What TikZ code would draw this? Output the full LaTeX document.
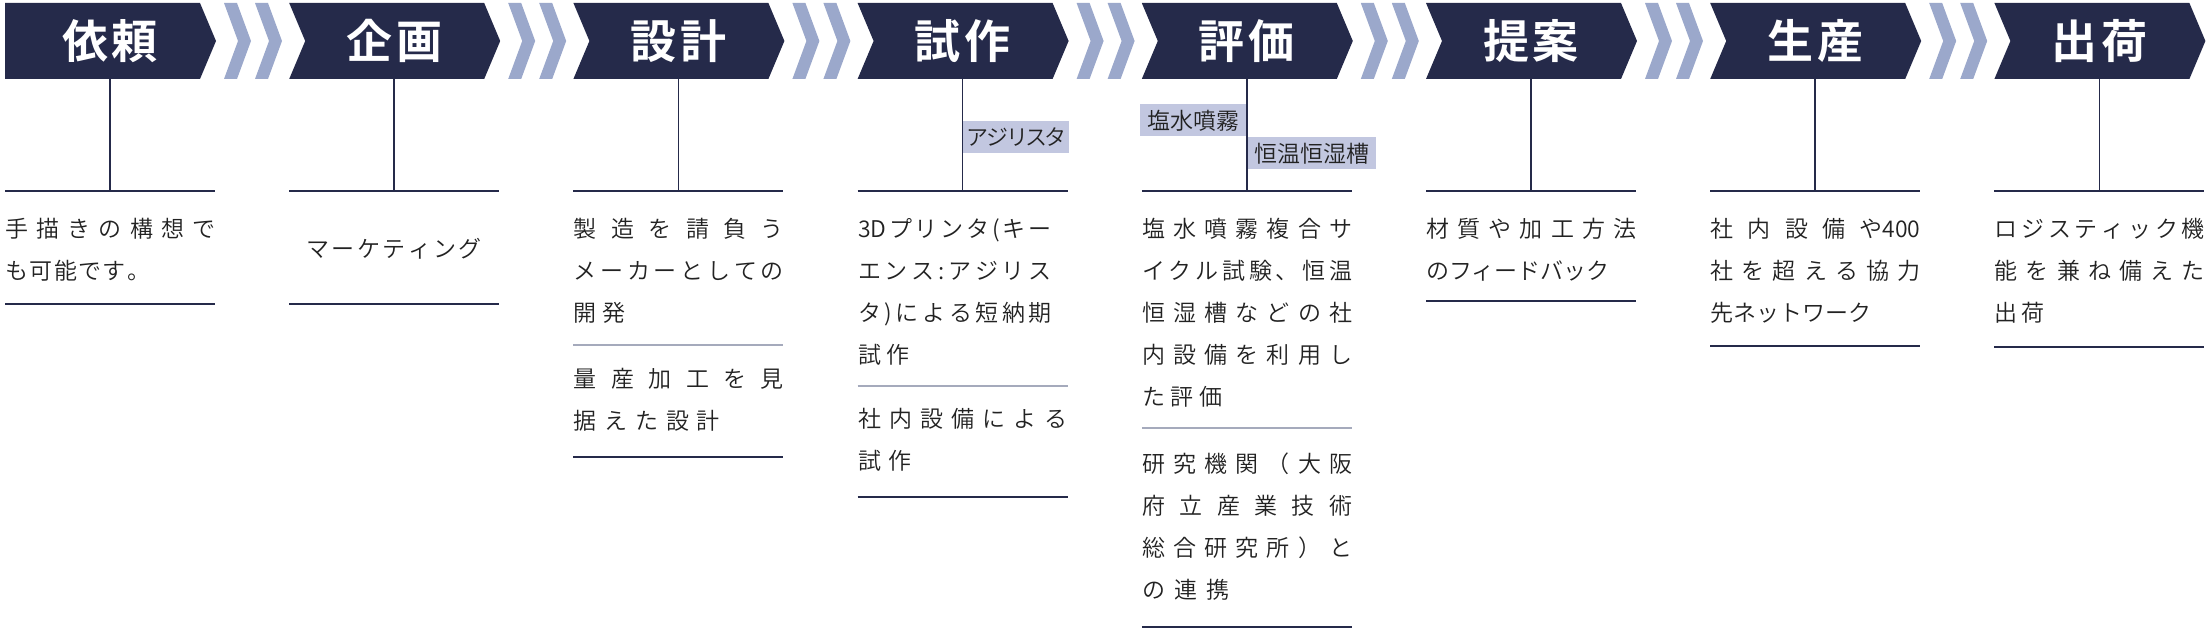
\documentclass[tikz,border=0pt]{standalone}
\usepackage{fontspec}
\setmainfont{Noto Sans CJK JP DemiLight}[BoldFont={Noto Sans CJK JP Bold}]
\newfontfamily\tagjp[RawFeature=+palt]{Noto Sans CJK JP DemiLight}
\usepackage{tikz}
\usetikzlibrary{positioning}
\setlength{\parindent}{0pt}
\definecolor{navy}{RGB}{37,42,74}
\definecolor{chev}{RGB}{155,168,203}
\definecolor{tagfill}{RGB}{194,199,224}
\definecolor{sepgray}{RGB}{165,170,188}
\definecolor{ink}{RGB}{34,34,34}
\newlength{\colw}
\setlength{\colw}{105pt}
\newcommand{\spreadsep}{\hfil}
\def\spreadA#1#2\endspread{#1\ifx\relax#2\else\spreadsep\spreadA#2\endspread\fi}
\newcommand{\jline}[1]{\makebox[\colw][s]{\spreadA#1\relax\endspread}}
\newcommand{\kline}[2][2pt]{\mbox{\def\spreadsep{\hspace{#1}}\spreadA#2\relax\endspread}}
\newcommand{\bodyfont}{\fontsize{11.5}{21}\selectfont}
\newcommand{\headfont}{\bfseries\fontsize{23}{23}\selectfont}
\tikzset{headtext/.style={minimum width=105pt, minimum height=38pt, inner sep=0pt, text=white, font=\headfont}}
\tikzset{body/.style={anchor=north west, inner sep=0pt, text width=105pt, align=left, text=ink, font=\bodyfont, execute at begin node={\rule{0pt}{10pt}}}}
\tikzset{bodyc/.style={body, anchor=north, align=center}}
\tikzset{tagbox/.style={fill=tagfill, inner xsep=3.5pt, inner ysep=0pt, minimum height=16pt, text=ink, font=\tagjp\fontsize{11.5}{12}\selectfont}}
\tikzset{stem/.style={navy, line width=0.8pt}}
\tikzset{rule/.style={navy, line width=1.1pt}}
\tikzset{sep/.style={sepgray, line width=0.8pt}}
\tikzset{headfirst/.pic={\fill[navy] (0,0) -- (195,0) -- (211,38) -- (195,76) -- (0,76) -- cycle;}}
\tikzset{headnext/.pic={\fill[navy] (0,0) -- (195,0) -- (211,38) -- (195,76) -- (0,76) -- (16,38) -- cycle;}}
\tikzset{chevron/.pic={\fill[chev] (0,0) -- (13,0) -- (27,38) -- (13,76) -- (0,76) -- (14,38) -- cycle;}}
\begin{document}
\begin{tikzpicture}[line join=round,x=0.5pt,y=-0.5pt]
\useasboundingbox (0,0) rectangle (2212,630);

\path
 (5,3) pic{headfirst}
 (289.2,3) pic{headnext}
 (573.4,3) pic{headnext}
 (857.6,3) pic{headnext}
 (1141.8,3) pic{headnext}
 (1426,3) pic{headnext}
 (1710.2,3) pic{headnext}
 (1994.4,3) pic{headnext};
\path
 (224,3) pic{chevron} (255,3) pic{chevron}
 (508.2,3) pic{chevron} (539.2,3) pic{chevron}
 (792.4,3) pic{chevron} (823.4,3) pic{chevron}
 (1076.6,3) pic{chevron} (1107.6,3) pic{chevron}
 (1360.8,3) pic{chevron} (1391.8,3) pic{chevron}
 (1645,3) pic{chevron} (1676,3) pic{chevron}
 (1929.2,3) pic{chevron} (1960.2,3) pic{chevron};

\draw[]
 (110,41) node[headtext](h1) {\kline{依頼}}
 (394.2,41) node[headtext](h2) {\kline{企画}}
 (678.4,41) node[headtext](h3) {\kline{設計}}
 (962.6,41) node[headtext](h4) {\kline{試作}}
 (1246.8,41) node[headtext](h5) {\kline{評価}}
 (1531,41) node[headtext](h6) {\kline{提案}}
 (1815.2,41) node[headtext](h7) {\kline{生産}}
 (2099.4,41) node[headtext](h8) {\kline{出荷}};
\draw[]
 (110,191) coordinate(r1)
 (394.2,191) coordinate(r2)
 (678.4,191) coordinate(r3)
 (962.6,191) coordinate(r4)
 (1246.8,191) coordinate(r5)
 (1531,191) coordinate(r6)
 (1815.2,191) coordinate(r7)
 (2099.4,191) coordinate(r8);

\node[tagbox, anchor=north west, inner xsep=2pt, font=\tagjp\fontsize{11}{12}\selectfont] (g4) at (962.6,121) {アジリスタ};
\node[tagbox, anchor=north east] (g5a) at (1246.8,104) {塩水噴霧};
\node[tagbox, anchor=north west] (g5b) at (1246.8,137) {恒温恒湿槽};

\draw[]
 (h1) edge[stem] (r1)
 (h2) edge[stem] (r2)
 (h3) edge[stem] (r3)
 (h4) edge[stem] (r4)
 (h5) edge[stem] (r5)
 (h6) edge[stem] (r6)
 (h7) edge[stem] (r7)
 (h8) edge[stem] (r8);

\draw[rule] (5,191) -- (215,191) (289.2,191) -- (499.2,191) (573.4,191) -- (783.4,191) (857.6,191) -- (1067.6,191);
\draw[rule] (1141.8,191) -- (1351.8,191) (1426,191) -- (1636,191) (1710.2,191) -- (1920.2,191) (1994.4,191) -- (2204.4,191);
\draw[rule] (5,304) -- (215,304) (289.2,304) -- (499.2,304) (573.4,457) -- (783.4,457) (857.6,497) -- (1067.6,497);
\draw[rule] (1141.8,627) -- (1351.8,627) (1426,301) -- (1636,301) (1710.2,346) -- (1920.2,346) (1994.4,347) -- (2204.4,347);
\draw[sep] (573.4,345) -- (783.4,345) (857.6,386) -- (1067.6,386) (1141.8,428) -- (1351.8,428);

\node[body] (t1) at (5,216.7) {\jline{手描きの構想で}\\\kline[0.7pt]{も可能です。}};
\node[bodyc] (t2) at (394.2,236.7) {\kline[1.2pt]{マーケティング}};
\node[body] (t3) at (573.4,216.7) {\jline{製造を請負う}\\\jline{メーカーとしての}\\\kline[3pt]{開発}};
\node[body] (t3b) at (573.4,366.7) {\jline{量産加工を見}\\\kline[3.9pt]{据えた設計}};
\node[body] (t4) at (857.6,216.7) {\kline[1.4pt]{{3D}プリンタ(キー}\\\kline[1.9pt]{エンス:アジリス}\\\kline[1.8pt]{タ)による短納期}\\\kline[3pt]{試作}};
\node[body] (t4b) at (857.6,406.7) {\jline{社内設備による}\\\kline[4pt]{試作}};
\node[body] (t5) at (1141.8,216.7) {\jline{塩水噴霧複合サ}\\\jline{イクル試験、恒温}\\\jline{恒湿槽などの社}\\\jline{内設備を利用し}\\\kline[2.75pt]{た評価}};
\node[body] (t5b) at (1141.8,451.7) {\jline{研究機関（大阪}\\\jline{府立産業技術}\\\jline{総合研究所）と}\\\kline[4.5pt]{の連携}};
\node[body] (t6) at (1426,216.7) {\jline{材質や加工方法}\\のフィードバック};
\node[body] (t7) at (1710.2,216.7) {\jline{社内設備{や400}}\\\jline{社を超える協力}\\先ネットワーク};
\node[body] (t8) at (1994.4,216.7) {\jline{ロジスティック機}\\\jline{能を兼ね備えた}\\\kline[2pt]{出荷}};

\end{tikzpicture}
\end{document}
